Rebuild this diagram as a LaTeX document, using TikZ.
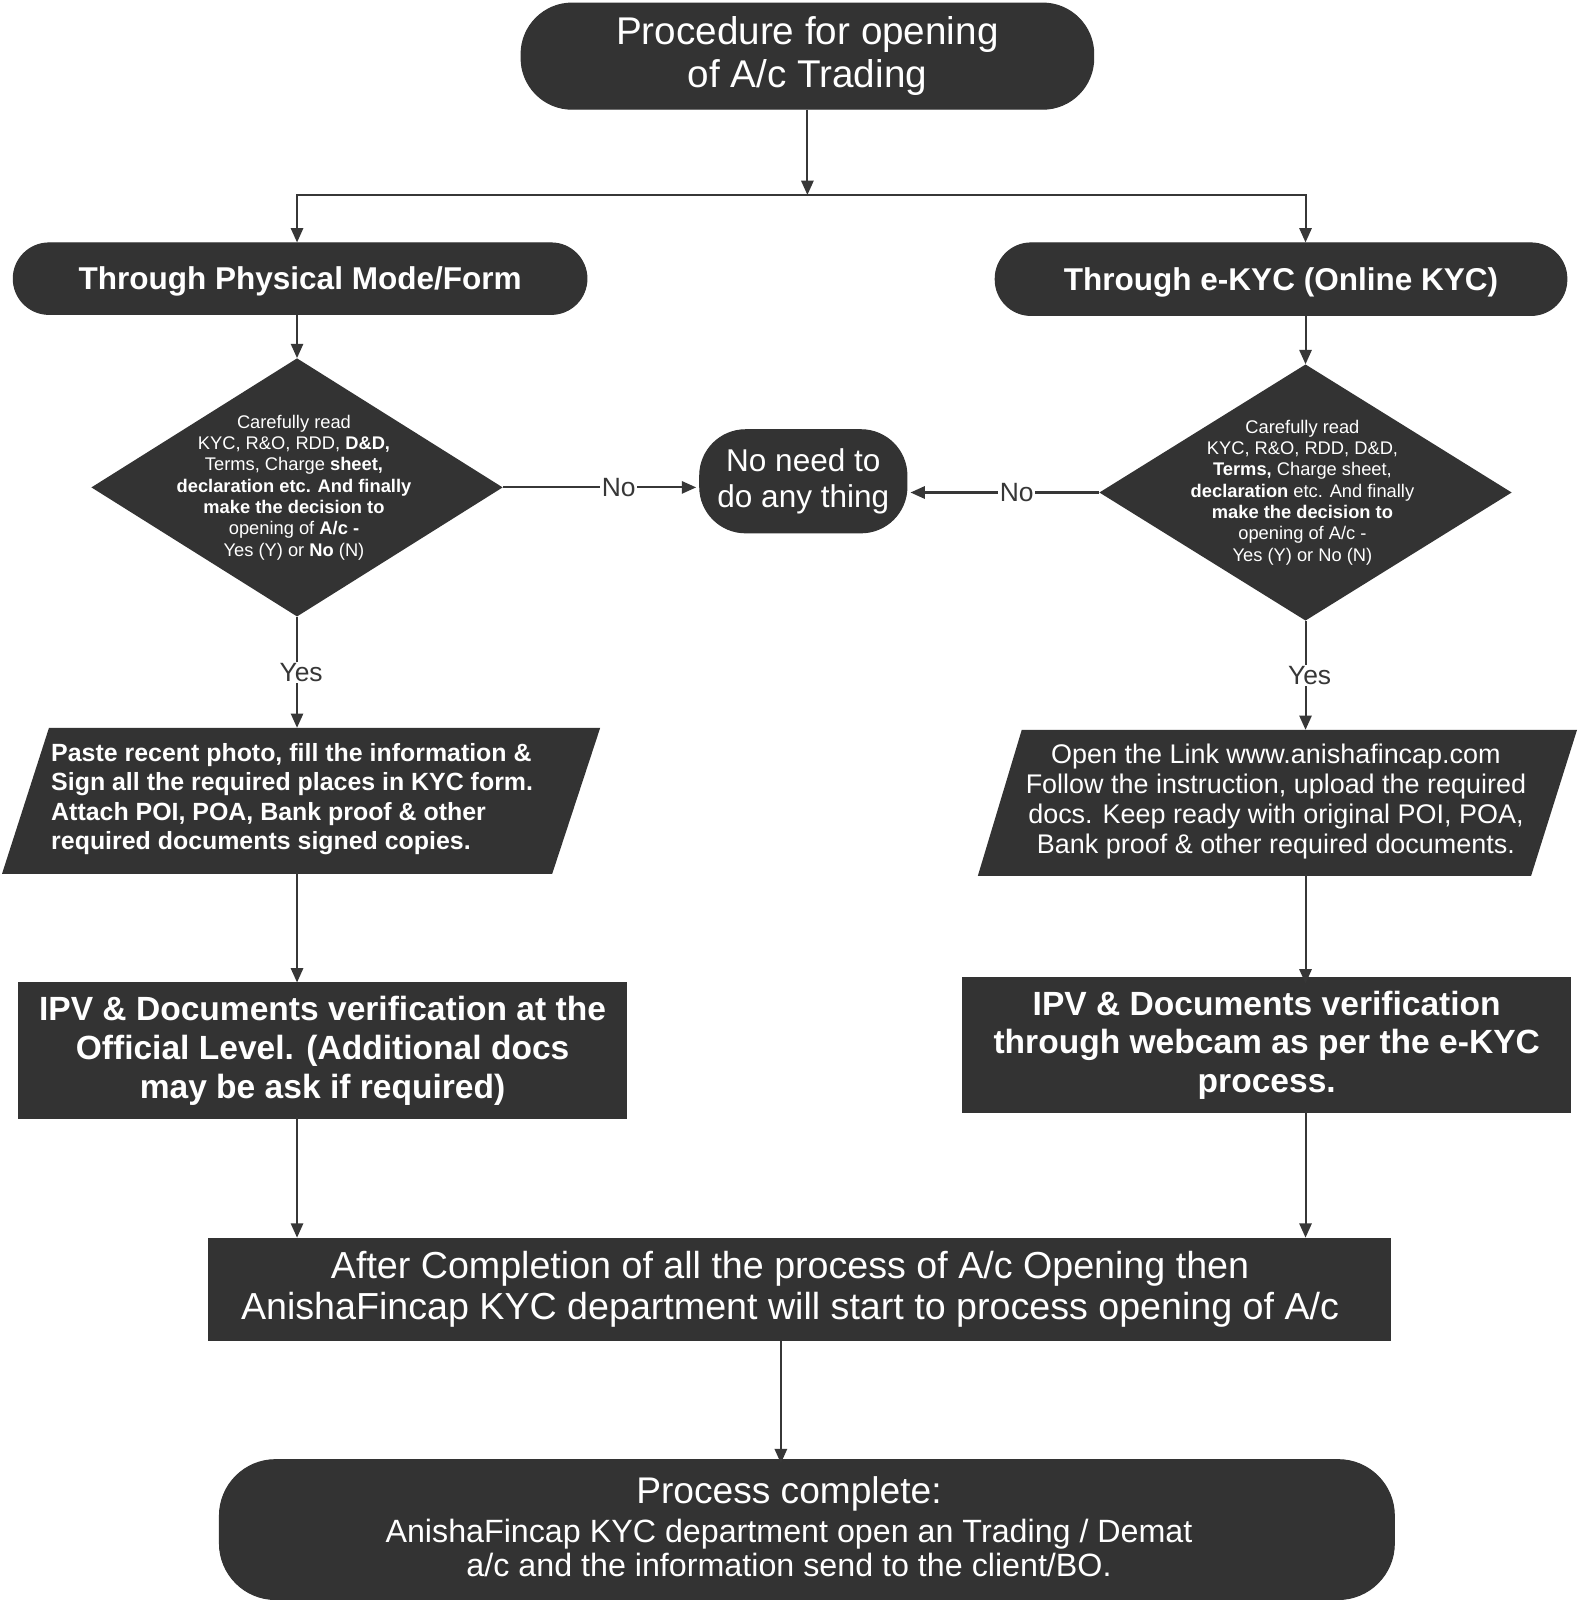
\documentclass[tikz,border=0pt]{standalone}
\usepackage{fontspec}
\setmainfont{Liberation Sans}
\usetikzlibrary{arrows.meta,shapes.geometric}
\definecolor{boxfill}{RGB}{51,51,51}
\definecolor{linec}{RGB}{55,55,55}
\begin{document}
\begin{tikzpicture}[x=1bp,y=-1bp,
  box/.style={fill=boxfill, draw=boxfill, line width=1bp, text=white, inner sep=0pt, align=center},
  dia/.style={diamond, fill=boxfill, inner sep=0pt},
  dtext/.style={text=white, align=center, inner sep=0pt, font=\fontsize{18}{21}\selectfont},
  ptext/.style={text=white, inner sep=0pt},
  arr/.style={draw=linec, line width=2bp, -{Triangle[length=14bp,width=12bp]}},
  lbl/.style={fill=white, text=linec, inner sep=1.5bp, font=\fontsize{26}{28}\selectfont}
]
\path[use as bounding box] (0,0) rectangle (1546.5,1567.5);
\fill[white] (0,0) rectangle (1546.5,1567.5);

% title
\node[box, rounded corners=50bp, minimum width=561bp, minimum height=104bp,
  font=\fontsize{38}{43}\selectfont] (title) at (791,55) {Procedure for opening\\of A/c Trading};

% headers
\node[box, rounded corners=35bp, minimum width=562bp, minimum height=70bp,
  text height=24bp, text depth=2bp,
  font=\bfseries\fontsize{31}{36}\selectfont] (hl) at (294,273) {Through Physical Mode/Form};
\node[box, rounded corners=35bp, minimum width=560bp, minimum height=71bp,
  text height=24bp, text depth=2bp,
  font=\bfseries\fontsize{31}{36}\selectfont] (hr) at (1255,273.5) {Through e-KYC (Online KYC)};

% diamonds
\node[dia, minimum width=403bp, minimum height=253bp] (dl) at (291,477.5) {};
\node[dtext] (dlt) at (288,477.5) {Carefully read\\KYC, R\&O, RDD, \textbf{D\&D,}\\Terms, Charge \textbf{sheet,}\\\textbf{declaration etc. And finally}\\\textbf{make the decision to}\\opening of \textbf{A/c -}\\Yes (Y) or \textbf{No} (N)};
\node[dia, minimum width=404bp, minimum height=251bp] (dr) at (1279,482.5) {};
\node[dtext] (drt) at (1276,482.5) {Carefully read\\KYC, R\&O, RDD, D\&D,\\\textbf{Terms,} Charge sheet,\\\textbf{declaration} etc. And finally\\\textbf{make the decision to}\\opening of A/c -\\Yes (Y) or No (N)};

% no need node
\node[box, rounded corners=45bp, minimum width=203bp, minimum height=101bp,
  font=\fontsize{31}{35}\selectfont] (no) at (787,471.5) {No need to\\do any thing};

% parallelograms
\fill[boxfill] (48,713) -- (588,713) -- (541,856) -- (2,856) -- cycle;
\coordinate (pltop) at (291,713);
\coordinate (plbot) at (291,856);
\node[ptext, anchor=west, align=left, font=\bfseries\fontsize{24.5}{29}\selectfont] (plt) at (50,783)
  {Paste recent photo, fill the information \&\\Sign all the required places in KYC form.\\Attach POI, POA, Bank proof \& other\\required documents signed copies.};
\fill[boxfill] (1001,715) -- (1545,715) -- (1500,858) -- (958,858) -- cycle;
\coordinate (prtop) at (1279,715);
\coordinate (prbot) at (1279,858);
\node[ptext, align=center, font=\fontsize{26.5}{29.5}\selectfont] (prt) at (1250,785)
  {Open the Link www.anishafincap.com\\Follow the instruction, upload the required\\docs. Keep ready with original POI, POA,\\Bank proof \& other required documents.};

% IPV boxes
\node[box, minimum width=596bp, minimum height=133bp,
  font=\bfseries\fontsize{33}{38}\selectfont] (ipvl) at (316,1029.5)
  {IPV \& Documents verification at the\\Official Level. (Additional docs\\may be ask if required)};
\node[box, minimum width=596bp, minimum height=132bp,
  font=\bfseries\fontsize{33}{38}\selectfont] (ipvr) at (1241,1024)
  {IPV \& Documents verification\\through webcam as per the e-KYC\\process.};

% completion
\node[box, minimum width=1158bp, minimum height=100bp] (comp) at (783,1263) {};
\node[ptext, align=center, font=\fontsize{37}{41}\selectfont] (compt) at (774,1263)
  {After Completion of all the process of A/c Opening then\\AnishaFincap KYC department will start to process opening of A/c};

% final
\node[box, rounded corners=55bp, minimum width=1151bp, minimum height=137bp] (fin) at (790.5,1498.5) {};
\node[ptext, align=center, font=\fontsize{31.7}{34}\selectfont] (fint) at (773,1496)
  {{\fontsize{36.5}{40}\selectfont Process complete:}\\[4bp]AnishaFincap KYC department open an Trading / Demat\\a/c and the information send to the client/BO.};

% connectors
\coordinate (split) at (791,191);
\draw[arr] (title.south) -- (split);
\draw[arr] (split) -| (hl.north -| pltop);
\draw[arr] (split) -| (hr.north -| prtop);
\draw[arr] (hl.south -| pltop) -- (dl.north);
\draw[arr] (hr.south -| prtop) -- (dr.north);
\draw[arr, shorten >=3bp] (dl.east) -- node[lbl, pos=0.59]{No} (dl.east -| no.west);
\draw[arr, shorten >=3bp] (dr.west) -- node[lbl, pos=0.43]{No} (dr.west -| no.east);
\draw[arr] (dl.south) -- node[lbl, pos=0.5, xshift=4bp]{Yes} (pltop);
\draw[arr] (dr.south) -- node[lbl, pos=0.5, xshift=4bp]{Yes} (prtop);
\draw[arr] ([yshift=2bp]plbot) -- (plbot |- ipvl.north);
\draw[arr] ([yshift=2bp]prbot) -- ([yshift=-6bp]prbot |- ipvr.north);
\draw[arr] ([yshift=2bp]plbot |- ipvl.south) -- (plbot |- comp.north);
\draw[arr] ([yshift=2bp]prbot |- ipvr.south) -- (prbot |- comp.north);
\draw[arr] ([xshift=-18bp]comp.south) -- ([xshift=-18bp,yshift=-4bp]comp.south |- fin.north);
\end{tikzpicture}
\end{document}
